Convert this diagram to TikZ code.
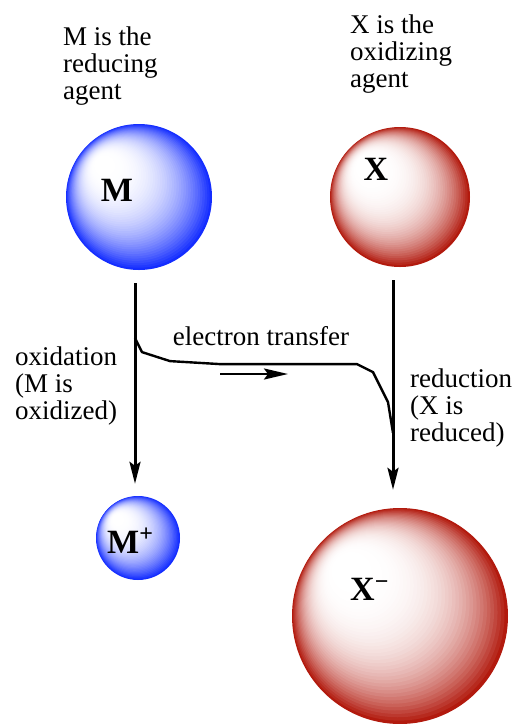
\documentclass[tikz,border=0pt]{standalone}
\usepackage{fontspec}
\setmainfont{Liberation Serif}
\usetikzlibrary{arrows.meta,calc}
\definecolor{mblue}{RGB}{20,45,255}
\definecolor{xred}{RGB}{178,26,14}
% ball: rings shrink toward a highlight up and to the left
% #1 node, #2 radius, #3 colour, #4 exponent of the colour ramp
\newcommand{\shadedball}[4]{%
  \foreach \i in {48,...,1} {
    \pgfmathsetmacro{\t}{\i/48}
    \pgfmathsetmacro{\p}{100*max(0,(\t-0.1)/0.9)^#4}
    \fill[#3!\p!white] ($(#1)+({(1-\t)*-0.55*#2},{(1-\t)*-0.5*#2})$) circle ({\t*#2});
  }%
}

\begin{document}
\begin{tikzpicture}[x=1pt, y=-1pt, >={Stealth[length=22pt,width=11pt,inset=4pt]},
  txt/.style={font=\fontsize{27}{27}\selectfont, align=left, inner sep=0pt, anchor=north west},
  ion/.style={font=\fontsize{34}{34}\selectfont\bfseries, inner sep=0pt},
  ball/.style={circle, inner sep=0pt},
  redox/.style={->, line width=3pt}]
  \useasboundingbox (0,0) rectangle (516,724);
  % the agents
  \node[txt] (Mtxt) at (63,26.5) {M is the\\reducing\\agent};
  \node[txt] (Xtxt) at (350,14.6) {X is the\\oxidizing\\agent};
  \node[ball, minimum size=146pt] (M) at (139,197) {};
  \node[ball, minimum size=140pt] (X) at (400,197) {};
  \shadedball{M}{73}{mblue}{2.4}
  \shadedball{X}{70}{xred}{3}
  \node[ion] (Mlab) at (117,190) {M};
  \node[ion] (Xlab) at (376,169) {X};
  % the products
  \node[ball, minimum size=84pt] (Mp) at (138,538) {};
  \node[ball, minimum size=216pt] (Xm) at (400,616) {};
  \shadedball{Mp}{42}{mblue}{2.4}
  \shadedball{Xm}{108}{xred}{3}
  \node[ion, anchor=base west] (Mplab) at (107,553) {M\raisebox{12pt}{\fontsize{24}{24}\selectfont +}};
  \node[ion, anchor=base west] (Xmlab) at (350,600) {X\raisebox{10.5pt}{\fontsize{24}{24}\selectfont −}};
  % oxidation and reduction
  \draw[redox, shorten <=13pt, shorten >=12pt] ([xshift=-4pt]M.south) -- coordinate[pos=0.301] (lstart) ([xshift=-4pt]M.south |- Mp.north);
  \draw[redox, shorten <=13pt, shorten >=18pt] ([xshift=-7pt]X.south) -- coordinate[pos=0.689] (rend) ([xshift=-7pt]X.south |- Xm.north);
  \node[txt] (oxtxt) at (15,346.6) {oxidation\\(M is\\oxidized)};
  \node[txt] (redtxt) at (410,368.6) {reduction\\(X is\\reduced)};
  % electron transfer
  \draw[line width=2.4pt, line join=round] (lstart) -- ++(7,14) -- ++(28,9) -- ++(50,3) -- ++(137,0) -- ++(16,8) -- ++(15,30) -- (rend);
  \node[txt, anchor=base] (ettxt) at (261,345) {electron transfer};
  \coordinate (flow) at (220,374);
  \draw[->, line width=2.6pt, >={Stealth[length=24pt,width=11pt,inset=4pt]}] (flow) -- ++(68,0);
\end{tikzpicture}
\end{document}
